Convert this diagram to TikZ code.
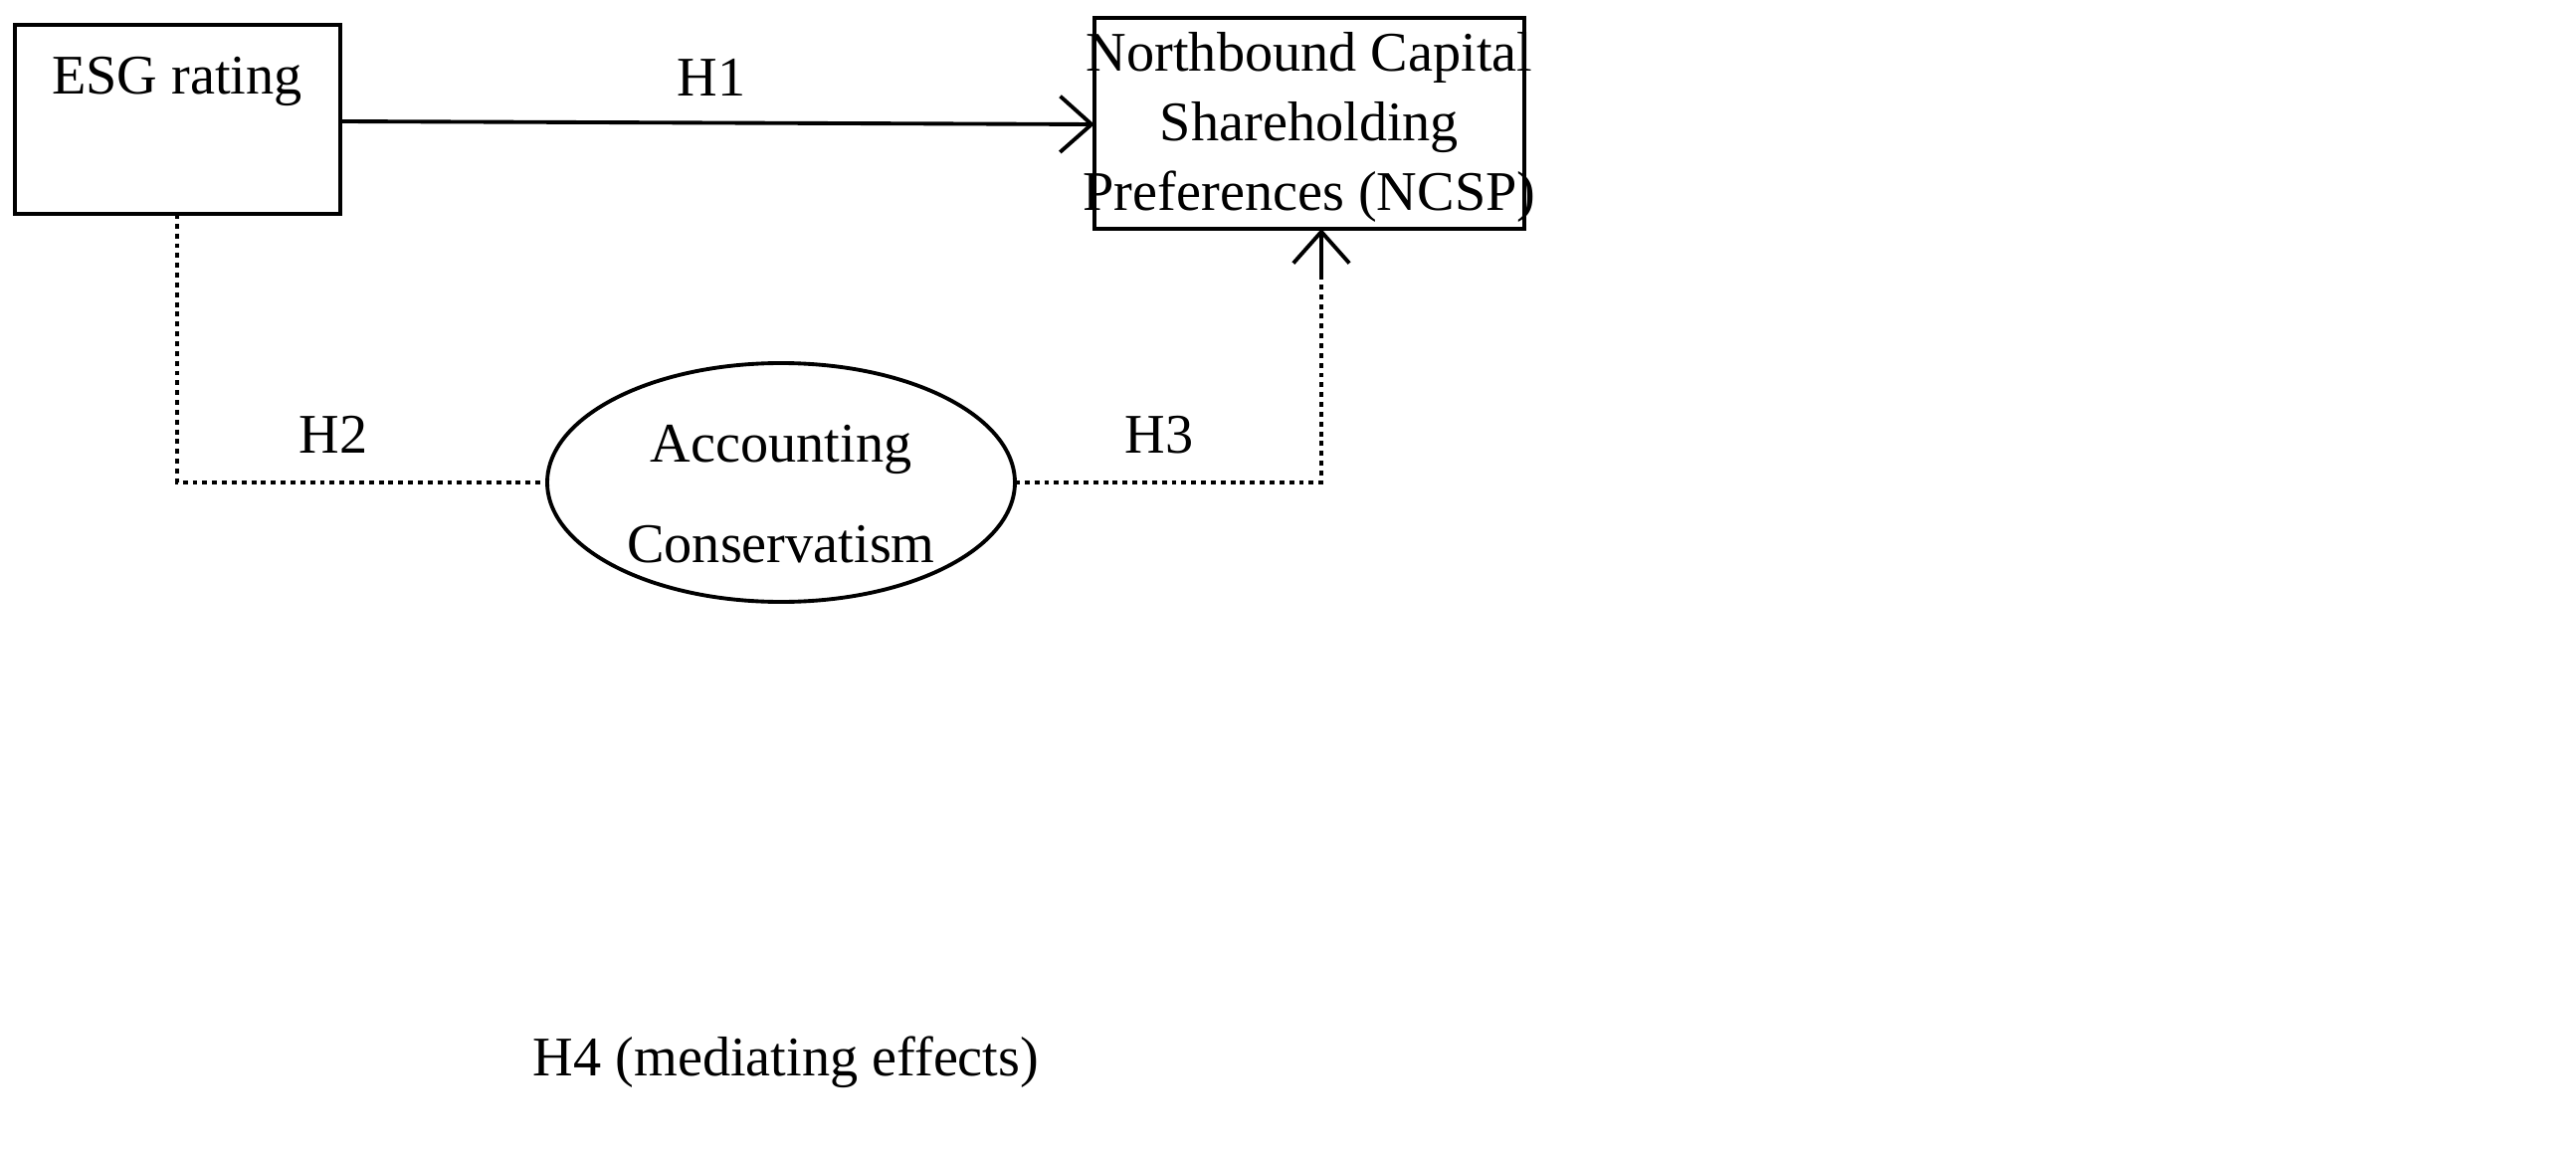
\documentclass[tikz,border=0pt]{standalone}
\usepackage{fontspec}
\setmainfont{Liberation Serif}
\usetikzlibrary{arrows.meta}
\begin{document}
\begin{tikzpicture}[x=0.01cm,y=-0.01cm,
  lbl/.style={font=\fontsize{16}{20}\selectfont,inner sep=0pt},
  shp/.style={line width=1.1pt},
  conn/.style={line width=1.1pt},
  dotc/.style={line width=1.4pt,dash pattern=on 1.4pt off 1.4pt},
  tip/.style={-{Straight Barb[length=9pt,width=16pt,line width=1.1pt]}}]
\useasboundingbox (0,0) rectangle (2589,1155);
\draw[shp] (15,25) rectangle (342,215);
\coordinate (esgE) at (342,122);
\coordinate (esgS) at (178,215);
\node[lbl] (esgt) at (178,82) {ESG rating};
\draw[shp] (1100,18) rectangle (1532,230);
\node[lbl,align=center] (ncsp) at (1316,128) {Northbound Capital\\Shareholding\\Preferences (NCSP)};
\coordinate (ncspW) at (1100,125);
\coordinate (ncspS) at (1328,230);
\coordinate (ncspS2) at (1328,280);
\draw[shp] (785,485) ellipse [x radius=235, y radius=120];
\coordinate (acW) at (550,485);
\coordinate (acE) at (1020,485);
\node[lbl] (act1) at (785,452) {Accounting};
\node[lbl] (act2) at (785,547) {Conservatism};
\draw[conn,tip] (esgE) -- (ncspW);
\draw[dotc] (esgS) |- (acW);
\draw[dotc] (acE) -| (ncspS);
\draw[conn,tip] (ncspS2) -- (ncspS);
\node[lbl] (h1) at (715,78) {H1};
\node[lbl] (h2) at (335,437) {H2};
\node[lbl] (h3) at (1165,437) {H3};
\node[lbl] (h4) at (790,1068) {H4 (mediating effects)};
\end{tikzpicture}
\end{document}
